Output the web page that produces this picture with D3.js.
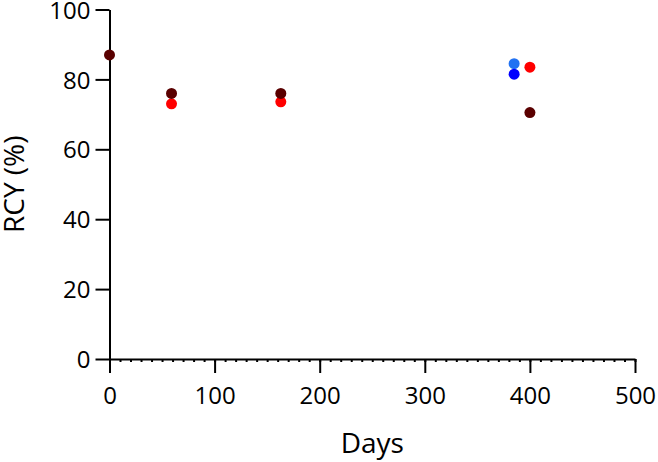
<!DOCTYPE html>
<html>
<head>
<meta charset="utf-8">
<script src="https://cdn.jsdelivr.net/npm/d3@7"></script>
<style>
  body { margin: 0; background: #fff; }
  svg { display: block; }
  .axis path, .axis line { stroke: #000; stroke-width: 2; }
  .axis text { font-family: "Open Sans", sans-serif; font-size: 24px; fill: #000; }
  .label { font-family: "Open Sans", sans-serif; font-size: 28px; fill: #000; }
</style>
</head>
<body>
<div id="chart"></div>
<script>
// values
var darkRedDays = [0, 59, 163, 400];
var darkRedRCY = [87, 76, 76, 70.5];
var redDays = [59, 163, 400];
var redRCY = [73, 73.6, 83.5];
var lightBlueDays = [385];
var lightBlueRCY = [84.5];
var blueDays = [385];
var blueRCY = [81.5];

var xTicks = [0, 100, 200, 300, 400, 500];
var xMinorTicks = d3.range(0, 501, 10);
var yTicks = [0, 20, 40, 60, 80, 100];

var series = [
    {x: redDays, y: redRCY, color: "#ff0000"},
    {x: darkRedDays, y: darkRedRCY, color: "#5a0000"},
    {x: lightBlueDays, y: lightBlueRCY, color: "#2272f2"},
    {x: blueDays, y: blueRCY, color: "#0000ff"}
];

var width = 658, height = 462;

var xScale = d3.scaleLinear().domain([0, 500]).range([109.5, 635]);
var yScale = d3.scaleLinear().domain([0, 100]).range([359, 9.5]);

var svg = d3.select("#chart").append("svg")
    .attr("width", width)
    .attr("height", height);

// minor ticks on x
svg.append("g")
    .attr("class", "axis")
    .attr("transform", "translate(0," + yScale(0) + ")")
    .call(d3.axisBottom(xScale).tickValues(xMinorTicks).tickSize(3).tickFormat(""))
    .call(g => g.select(".domain").remove());

svg.append("g")
    .attr("class", "axis")
    .attr("transform", "translate(0," + yScale(0) + ")")
    .call(d3.axisBottom(xScale).tickValues(xTicks).tickSize(14).tickSizeOuter(0).tickPadding(14));

svg.append("g")
    .attr("class", "axis")
    .attr("transform", "translate(" + xScale(0) + ",0)")
    .call(d3.axisLeft(yScale).tickValues(yTicks).tickSize(14).tickSizeOuter(0).tickPadding(5))
    .selectAll("text").attr("dy", "0.36em");

// x label
svg.append("text")
    .attr("class", "label")
    .attr("x", (xScale(0) + xScale(500)) / 2)
    .attr("y", 453)
    .attr("text-anchor", "middle")
    .text("Days");

// y label
svg.append("text")
    .attr("class", "label")
    .attr("transform", "translate(24," + (yScale(0) + yScale(100)) / 2 + ") rotate(-90)")
    .attr("text-anchor", "middle")
    .text("RCY (%)");

series.forEach(function(s, k) {
    svg.selectAll(".dot" + k)
        .data(s.x)
        .enter().append("circle")
        .attr("class", "dot" + k)
        .attr("cx", function(d) { return xScale(d); })
        .attr("cy", function(d, i) { return yScale(s.y[i]); })
        .attr("r", 5.5)
        .attr("style", "fill: " + s.color);
});
</script>
</body>
</html>
